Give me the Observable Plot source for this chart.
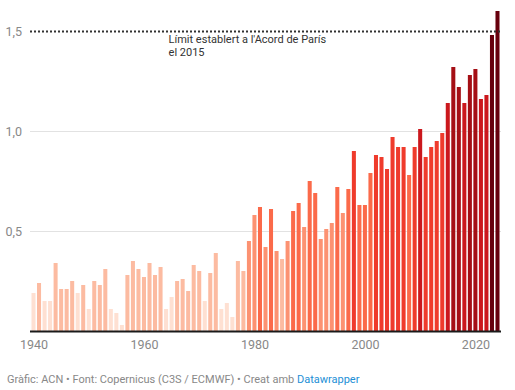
<!DOCTYPE html>
<html>
<head>
<meta charset="utf-8">
<script src="https://cdn.jsdelivr.net/npm/d3@7"></script>
<script src="https://cdn.jsdelivr.net/npm/@observablehq/plot@0.6"></script>
<style>
  html, body { margin: 0; padding: 0; background: #fff; }
  body { width: 515px; height: 390px; font-family: Roboto, "Noto Sans", sans-serif; position: relative; overflow: hidden; }
  #chart { position: absolute; left: 0; top: 0; }
  #footer { position: absolute; left: 7px; top: 373px; font-size: 11px; color: #888; white-space: nowrap; }
  #footer span { color: #1d8fd6; }
</style>
</head>
<body>
<div id="chart"></div>
<div id="footer">Gràfic: ACN • Font: Copernicus (C3S / ECMWF) • Creat amb <span>Datawrapper</span></div>
<script>
const years = d3.range(1940, 2025);
const anomalies = [
  0.19, 0.24, 0.15, 0.15, 0.34, 0.21, 0.21, 0.25, 0.19, 0.23,
  0.11, 0.25, 0.23, 0.31, 0.11, 0.09, 0.03, 0.28, 0.35, 0.31,
  0.27, 0.34, 0.28, 0.32, 0.11, 0.17, 0.25, 0.26, 0.20, 0.33,
  0.30, 0.15, 0.29, 0.39, 0.11, 0.14, 0.07, 0.35, 0.30, 0.45,
  0.58, 0.62, 0.42, 0.61, 0.40, 0.36, 0.45, 0.60, 0.64, 0.52,
  0.75, 0.69, 0.46, 0.51, 0.54, 0.72, 0.59, 0.71, 0.90, 0.63,
  0.63, 0.79, 0.88, 0.87, 0.81, 0.97, 0.92, 0.92, 0.78, 0.92,
  1.01, 0.87, 0.92, 0.95, 0.99, 1.14, 1.32, 1.22, 1.14, 1.28,
  1.31, 1.16, 1.18, 1.48, 1.60
];
const xTicks = [1940, 1960, 1980, 2000, 2020];
const yTicks = [0.5, 1.0, 1.5];
const gridTicks = [0.5, 1.0];
const parisLimit = 1.5;
const annotationYear = 1964;
const annotationText = "Límit establert a l'Acord de París\nel 2015";
const colorThresholds = [0.2, 0.4, 0.6, 0.8, 1.0, 1.2, 1.4];
const colorRange = ["#fee0d2", "#fcbba1", "#fc9272", "#fb6a4a", "#ef3b2c", "#cb181d", "#a50f15", "#67000d"];

const data = years.map((year, i) => ({year, value: anomalies[i]}));
const fmt = d => d.toFixed(1).replace(".", ",");

const chart = Plot.plot({
  width: 515,
  height: 360,
  marginTop: 11,
  marginBottom: 29,
  marginLeft: 30,
  marginRight: 14,
  style: {fontFamily: "Roboto, sans-serif", fontSize: "12px", background: "#fff"},
  x: {type: "band", domain: years, padding: 0.27, round: false, label: null},
  y: {domain: [0, 1.6], label: null},
  color: {type: "threshold", domain: colorThresholds, range: colorRange},
  marks: [
    Plot.gridY(gridTicks, {stroke: "#e2e2e2", strokeOpacity: 1, strokeWidth: 1}),
    Plot.barY(data, {x: "year", y: "value", fill: d => d.value}),
    Plot.ruleY([0], {stroke: "#1a1a1a", strokeWidth: 2}),
    Plot.ruleY([parisLimit], {stroke: "#333", strokeWidth: 2, strokeDasharray: "2,2"}),
    Plot.text([annotationText], {
      x: () => annotationYear, y: () => parisLimit,
      text: d => d, textAnchor: "start", lineAnchor: "top",
      dx: 2, dy: 3, fontSize: 11, fill: "#333", lineHeight: 1.15
    }),
    Plot.axisY(yTicks, {
      tickSize: 0, tickPadding: 0, textAnchor: "start", dx: -25, label: null,
      tickFormat: fmt, fill: "#888", fontSize: 12.5
    }),
    Plot.axisX(xTicks, {
      tickSize: 0, tickPadding: 9, fill: "#888", fontSize: 12.5, label: null,
      tickFormat: d => String(d)
    })
  ]
});
document.getElementById("chart").appendChild(chart);
</script>
</body>
</html>
